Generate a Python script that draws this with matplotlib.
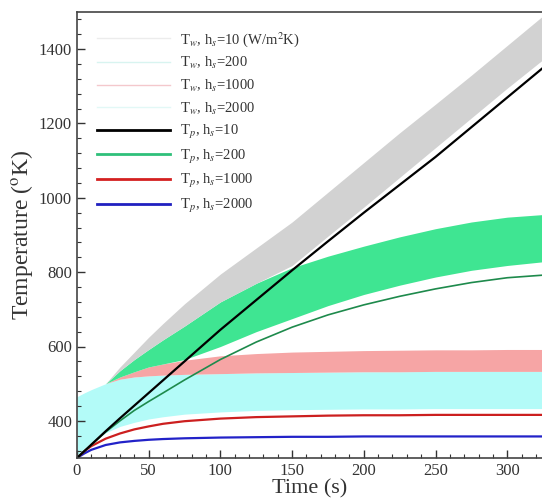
import numpy as np
import matplotlib
matplotlib.use('Agg')
import matplotlib.pyplot as plt
from matplotlib.lines import Line2D
from matplotlib.ticker import MultipleLocator

plt.rcParams['font.family'] = ['Liberation Serif', 'DejaVu Serif']
plt.rcParams['mathtext.fontset'] = 'stix'

# time (s)
t = [0, 5, 10, 20, 30, 40, 50, 60, 75, 100, 125, 150, 175, 200, 225, 250, 275, 300, 325]

# particle temperatures (K)
tp_h10 = [300, 318, 336, 372, 407, 441, 475, 509, 560, 645, 725, 805, 883, 960, 1035, 1110, 1190, 1270, 1350]
tp_h200 = [300, 318, 335, 370, 400, 428, 452, 475, 510, 565, 612, 652, 685, 712, 735, 755, 772, 785, 792]
tp_h1000 = [300, 318, 332, 352, 366, 377, 385, 392, 399, 406, 410, 412, 414, 415, 415, 416, 416, 416, 416]
tp_h2000 = [300, 312, 322, 335, 342, 346, 349, 351, 353, 355, 356, 357, 357, 358, 358, 358, 358, 358, 358]

# wall temperature bands (lower, upper)
tw_h2000_lo = [300, 325, 342, 368, 385, 396, 405, 411, 418, 424, 428, 430, 431, 432, 432, 433, 433, 433, 433]
tw_h2000_hi = [465, 475, 484, 500, 512, 518, 521, 523, 525, 527, 529, 530, 531, 532, 532, 533, 533, 533, 533]
tw_h1000_hi = [465, 475, 484, 500, 518, 532, 545, 553, 563, 575, 581, 585, 587, 589, 590, 591, 591, 592, 592]
tw_h200_lo = [465, 475, 484, 500, 518, 532, 545, 553, 565, 600, 640, 675, 710, 740, 765, 787, 805, 818, 828]
tw_h200_hi = [465, 475, 484, 500, 535, 565, 592, 618, 655, 720, 770, 812, 843, 870, 895, 917, 935, 948, 955]
tw_h10_lo = [465, 475, 484, 500, 535, 565, 592, 618, 655, 720, 770, 818, 897, 975, 1055, 1135, 1215, 1295, 1372]
tw_h10_hi = [465, 475, 484, 500, 545, 585, 625, 662, 715, 795, 865, 935, 1015, 1095, 1175, 1252, 1330, 1410, 1490]

labels = [r'T$_w$, h$_s$=10 (W/m$^2$K)', r'T$_w$, h$_s$=200', r'T$_w$, h$_s$=1000', r'T$_w$, h$_s$=2000',
          r'T$_p$, h$_s$=10', r'T$_p$, h$_s$=200', r'T$_p$, h$_s$=1000', r'T$_p$, h$_s$=2000']

fig = plt.figure(figsize=(5.42, 5.0), dpi=100)
ax = fig.add_axes([0.142, 0.084, 0.860, 0.892])

ax.fill_between(t, tw_h2000_lo, tw_h2000_hi, color='#b3fbf8', lw=0)
ax.fill_between(t, tw_h2000_hi, tw_h1000_hi, color='#f6a5a5', lw=0)
ax.fill_between(t, tw_h200_lo, tw_h200_hi, color='#3fe592', lw=0)
ax.fill_between(t, tw_h10_lo, tw_h10_hi, color='#d2d2d2', lw=0)

ax.plot(t, tp_h2000, color='#2222c8', lw=1.6)
ax.plot(t, tp_h1000, color='#cc1f1f', lw=1.6)
ax.plot(t, tp_h200, color='#1e8a4c', lw=1.2)
ax.plot(t, tp_h10, color='black', lw=1.6)

handles = [Line2D([], [], color='#ececec', lw=1.0),
           Line2D([], [], color='#d8f4f0', lw=1.0),
           Line2D([], [], color='#f4c8cc', lw=1.0),
           Line2D([], [], color='#e2f8f6', lw=1.0),
           Line2D([], [], color='black', lw=2.0),
           Line2D([], [], color='#2fc07a', lw=2.0),
           Line2D([], [], color='#d42020', lw=2.0),
           Line2D([], [], color='#2020c0', lw=2.0)]
leg = ax.legend(handles, labels, loc='upper left', bbox_to_anchor=(0.015, 0.99), frameon=False,
                fontsize=10.5, handlelength=5.0, labelspacing=0.45, handletextpad=0.7)
for txt in leg.get_texts():
    txt.set_color('#333333')

ax.set_xlim(0, 325)
ax.set_ylim(300, 1500)
ax.xaxis.set_major_locator(MultipleLocator(50))
ax.xaxis.set_minor_locator(MultipleLocator(10))
ax.yaxis.set_minor_locator(MultipleLocator(40))
ax.set_yticks([400, 600, 800, 1000, 1200, 1400])
ax.tick_params(which='major', direction='in', length=6, width=1, labelsize=12, colors='#333333')
ax.tick_params(which='minor', direction='in', length=3, width=0.8, colors='#333333')
ax.spines['right'].set_visible(False)
for s in ['left', 'bottom', 'top']:
    ax.spines[s].set_color('#444444')
    ax.spines[s].set_linewidth(1.2)

ax.set_xlabel('Time (s)', fontsize=16, labelpad=0, color='#333333')
ax.set_ylabel(r'Temperature ($^{\rm o}$K)', fontsize=17, labelpad=3, color='#333333')

fig.savefig('out.png', dpi=100)
